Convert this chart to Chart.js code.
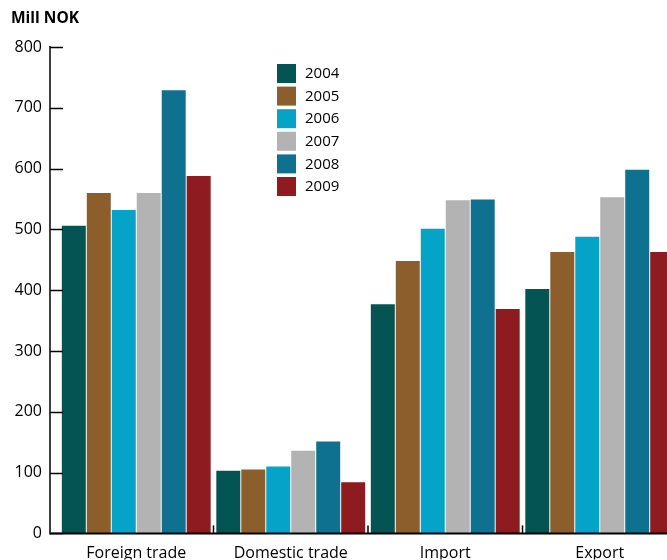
<!DOCTYPE html>
<html>
<head>
<meta charset="utf-8">
<script src="https://cdn.jsdelivr.net/npm/chart.js@4"></script>
<style>
  html, body { margin: 0; padding: 0; background: #fff; overflow: hidden; }
  #wrap { position: absolute; left: 0; top: 0; width: 690px; height: 560px; }
</style>
</head>
<body>
<div id="wrap"><canvas id="chart"></canvas></div>
<script>
const categories = ['Foreign trade', 'Domestic trade', 'Import', 'Export'];
const years = ['2004', '2005', '2006', '2007', '2008', '2009'];
const v2004 = [506, 103, 377, 402];
const v2005 = [560, 105, 448, 463];
const v2006 = [532, 110, 501, 488];
const v2007 = [560, 136, 548, 553];
const v2008 = [729, 151, 549, 598];
const v2009 = [588, 84, 369, 463];
const yTicks = [0, 100, 200, 300, 400, 500, 600, 700, 800];
const colors = ['#035453', '#8b5e2b', '#05a3c8', '#b3b3b3', '#0e7190', '#8e1b20'];

const FONT = '"Open Sans", "Noto Sans", sans-serif';
const series = [v2004, v2005, v2006, v2007, v2008, v2009];

// axis lines, tick marks, legend and unit label
const decor = {
  id: 'decor',
  afterDraw(chart) {
    const ctx = chart.ctx;
    const y = chart.scales.y, x = chart.scales.x;
    const axisX = 50;
    ctx.save();
    ctx.strokeStyle = '#000';
    ctx.lineWidth = 1.5;
    ctx.beginPath();
    ctx.moveTo(axisX, y.getPixelForValue(800) - 1);
    ctx.lineTo(axisX, y.getPixelForValue(0) + 1);
    ctx.stroke();
    yTicks.forEach(t => {
      const py = Math.round(y.getPixelForValue(t)) + 0.5;
      ctx.beginPath();
      ctx.moveTo(axisX, py);
      ctx.lineTo(axisX + 13, py);
      ctx.stroke();
    });
    const base = y.getPixelForValue(0);
    ctx.lineWidth = 2;
    ctx.beginPath();
    ctx.moveTo(axisX, base);
    ctx.lineTo(chart.width, base);
    ctx.stroke();
    const w = (x.right - x.left) / categories.length;
    ctx.lineWidth = 1.5;
    for (let i = 1; i < categories.length; i++) {
      const px = x.left + i * w;
      ctx.beginPath();
      ctx.moveTo(px, base);
      ctx.lineTo(px, base - 8);
      ctx.stroke();
    }
    // unit
    ctx.fillStyle = '#000';
    ctx.font = 'bold 15.5px ' + FONT;
    ctx.textBaseline = 'middle';
    ctx.textAlign = 'left';
    ctx.fillText('Mill NOK', 11, 19);
    // legend
    ctx.font = '15px ' + FONT;
    chart.data.datasets.forEach((ds, i) => {
      const top = 64 + i * 22.6;
      ctx.fillStyle = ds.backgroundColor;
      ctx.fillRect(277, top, 19, 19);
      ctx.fillStyle = '#000';
      ctx.fillText(ds.label, 305, top + 10);
    });
    ctx.restore();
  }
};

new Chart(document.getElementById('chart'), {
  type: 'bar',
  data: {
    labels: categories,
    datasets: years.map((yr, i) => ({
      label: yr,
      data: series[i],
      backgroundColor: colors[i],
      borderWidth: 0,
      categoryPercentage: 0.97,
      barPercentage: 0.96
    }))
  },
  options: {
    responsive: true,
    maintainAspectRatio: false,
    animation: false,
    layout: { padding: { top: 47, right: 13, left: 0, bottom: 0 } },
    plugins: { legend: { display: false }, tooltip: { enabled: false } },
    scales: {
      x: {
        grid: { display: false, drawTicks: false },
        border: { display: false },
        ticks: { color: '#000', font: { family: FONT, size: 16 }, padding: 10, maxRotation: 0 },
        afterFit: s => { s.height = 26; }
      },
      y: {
        min: 0,
        max: 800,
        afterBuildTicks: s => { s.ticks = yTicks.map(v => ({ value: v })); },
        grid: { display: false, drawTicks: false },
        border: { display: false },
        ticks: { color: '#000', font: { family: FONT, size: 16 }, padding: 17 },
        afterFit: s => { s.width = 59; }
      }
    }
  },
  plugins: [decor]
});
</script>
</body>
</html>
